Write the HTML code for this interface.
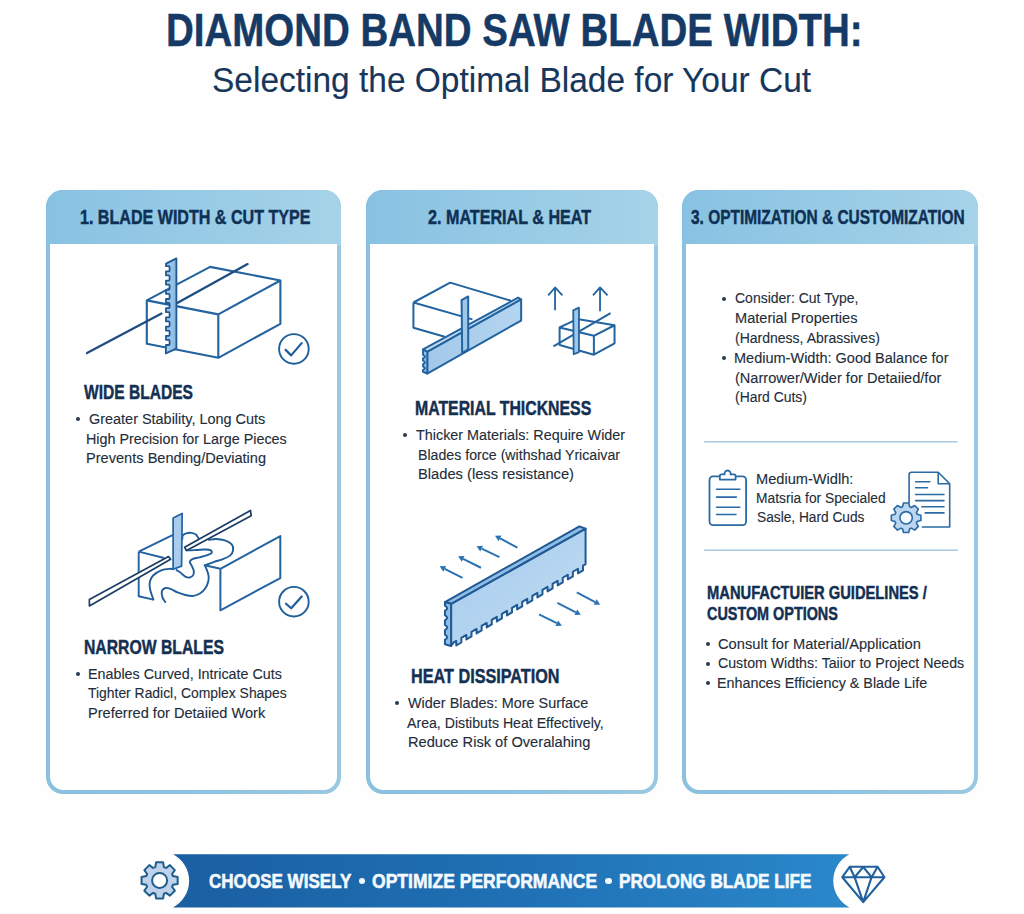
<!DOCTYPE html>
<html><head><meta charset="utf-8"><style>
*{margin:0;padding:0;box-sizing:border-box}
html,body{width:1024px;height:914px;overflow:hidden;background:#fefefe;font-family:"Liberation Sans",sans-serif}
.t{position:absolute;white-space:pre;line-height:1;transform-origin:0 0}
.r{-webkit-text-stroke:0.12px currentColor}
.bd{-webkit-text-stroke:0.45px currentColor}
.bn{-webkit-text-stroke:0.6px currentColor}
.card{position:absolute;top:189.5px;height:604px;border-radius:17px;background:linear-gradient(90deg,#8bc0df,#8ec2df 50%,#99c9e1)}
.hd{position:absolute;left:0;top:0;right:0;height:56px;border-radius:17px 17px 0 0;background:linear-gradient(90deg,#88c2e2,#a6d3e8)}
.bd2{position:absolute;left:3.6px;right:3.6px;top:54.5px;bottom:3.6px;border-radius:0 0 13.5px 13.5px;background:#fff}
.b{position:absolute;width:4px;height:4px;border-radius:50%;background:#2a3a50}
svg{position:absolute;left:0;top:0}
</style></head><body>
<div class="card" style="left:46px;width:295px"><div class="hd"></div><div class="bd2"></div></div>
<div class="card" style="left:366px;width:292px"><div class="hd"></div><div class="bd2"></div></div>
<div class="card" style="left:682px;width:296px"><div class="hd"></div><div class="bd2"></div></div>

<svg width="1024" height="914" viewBox="0 0 1024 914">
<path d="M146.8,300.4 L210.1,266.9 L280.4,280.5 L218.3,314.4 Z M146.8,300.4 L146.8,343.7 L218.3,357.8 L218.3,314.4 M218.3,357.8 L280.4,323.8 L280.4,280.5" fill="#fff" stroke="#2263a0" stroke-width="2.1" stroke-linejoin="round"/><path d="M87,353.1 L161.5,313.6 M170,307 L247.6,264.1" stroke="#1d4d82" stroke-width="2.3" stroke-linecap="round"/><defs><linearGradient id="bl1" x1="0" y1="0" x2="1" y2="0"><stop offset="0" stop-color="#a7d0f2"/><stop offset="1" stop-color="#86b6e0"/></linearGradient></defs><path d="M176.4,258.4 L176.4,348.7 L165.8,353.3 L166,345.0 L168.6,345.0 Q169.6,345.0 169.6,344.0 L169.6,340.8 Q169.6,339.8 168.6,339.8 L166,339.8 L166,335.8 L168.6,335.8 Q169.6,335.8 169.6,334.8 L169.6,331.6 Q169.6,330.6 168.6,330.6 L166,330.6 L166,326.6 L168.6,326.6 Q169.6,326.6 169.6,325.6 L169.6,322.4 Q169.6,321.4 168.6,321.4 L166,321.4 L166,317.4 L168.6,317.4 Q169.6,317.4 169.6,316.4 L169.6,313.2 Q169.6,312.2 168.6,312.2 L166,312.2 L166,308.2 L168.6,308.2 Q169.6,308.2 169.6,307.2 L169.6,304.0 Q169.6,303.0 168.6,303.0 L166,303.0 L166,299.0 L168.6,299.0 Q169.6,299.0 169.6,298.0 L169.6,294.8 Q169.6,293.8 168.6,293.8 L166,293.8 L166,289.8 L168.6,289.8 Q169.6,289.8 169.6,288.8 L169.6,285.6 Q169.6,284.6 168.6,284.6 L166,284.6 L166,280.6 L168.6,280.6 Q169.6,280.6 169.6,279.6 L169.6,276.4 Q169.6,275.4 168.6,275.4 L166,275.4 L166,271.4 L168.6,271.4 Q169.6,271.4 169.6,270.4 L169.6,267.2 Q169.6,266.2 168.6,266.2 L166,266.2 L166.1,263.6 Z" fill="url(#bl1)" stroke="#1f5893" stroke-width="1.8" stroke-linejoin="round"/><circle cx="293.9" cy="348.9" r="14.8" fill="none" stroke="#1f5f99" stroke-width="1.9"/><path d="M285.6,349.9 L291.1,355.4 L301.7,343.1" fill="none" stroke="#1f5f99" stroke-width="2.2" stroke-linecap="round" stroke-linejoin="round"/><path d="M138.7,551.7 L138.7,596.2 L153.4,599.6 M138.7,551.7 L173,534.9 M138.7,551.7 L164.1,558" fill="none" stroke="#2263a0" stroke-width="1.9" stroke-linejoin="round"/><path d="M153.40,599.60 C152.83,597.80 150.57,591.90 150.00,588.80 C149.43,585.70 149.43,583.27 150.00,581.00 C150.57,578.73 151.53,576.98 153.40,575.20 C155.27,573.42 158.43,571.37 161.20,570.30 C163.97,569.23 168.02,568.98 170.00,568.80 C171.98,568.62 172.58,569.13 173.10,569.20 M176.60,570.10 C177.18,570.47 178.63,571.22 180.10,572.30 C181.57,573.38 183.78,575.73 185.40,576.60 C187.02,577.47 188.48,577.78 189.80,577.50 C191.12,577.22 192.65,576.07 193.30,574.90 C193.95,573.73 194.00,572.10 193.70,570.50 C193.40,568.90 192.15,566.75 191.50,565.30 C190.85,563.85 189.65,562.83 189.80,561.80 C189.95,560.77 190.80,559.83 192.40,559.10 C194.00,558.37 196.92,558.05 199.40,557.40 C201.88,556.75 205.27,555.93 207.30,555.20 C209.33,554.47 211.02,553.80 211.60,553.00 C212.18,552.20 211.82,550.98 210.80,550.40 C209.78,549.82 207.83,549.57 205.50,549.50 C203.17,549.43 199.57,549.85 196.80,550.00 C194.03,550.15 190.65,550.40 188.90,550.40 C187.15,550.40 186.73,550.07 186.30,550.00 M182.30,539.00 C182.38,538.42 182.13,536.45 182.80,535.50 C183.47,534.55 184.85,533.73 186.30,533.30 C187.75,532.87 189.90,532.68 191.50,532.90 C193.10,533.12 194.73,533.73 195.90,534.60 C197.07,535.47 198.07,537.52 198.50,538.10 M209.00,539.90 C210.17,539.75 213.37,538.93 216.00,539.00 C218.63,539.07 222.17,539.42 224.80,540.30 C227.43,541.18 230.42,542.62 231.80,544.30 C233.18,545.98 233.40,548.52 233.10,550.40 C232.80,552.28 231.68,554.15 230.00,555.60 C228.32,557.05 225.62,558.07 223.00,559.10 C220.38,560.13 216.92,560.92 214.30,561.80 C211.68,562.68 208.92,563.82 207.30,564.40 C205.68,564.98 205.05,565.15 204.60,565.30 M204.60,565.30 C204.90,565.88 205.73,567.05 206.40,568.80 C207.07,570.55 208.32,573.62 208.60,575.80 C208.88,577.98 208.62,579.87 208.10,581.90 C207.58,583.93 206.80,586.10 205.50,588.00 C204.20,589.90 202.33,591.98 200.30,593.30 C198.27,594.62 195.78,595.62 193.30,595.90 C190.82,596.18 188.03,595.58 185.40,595.00 C182.77,594.42 179.98,593.42 177.50,592.40 C175.02,591.38 172.53,589.63 170.50,588.90 C168.47,588.17 166.75,587.57 165.30,588.00 C163.85,588.43 162.25,589.90 161.80,591.50 C161.35,593.10 162.02,595.85 162.60,597.60 C163.18,599.35 164.85,601.27 165.30,602.00" fill="none" stroke="#1f5d99" stroke-width="1.9" stroke-linecap="round" stroke-linejoin="round"/><path d="M89.4,599.6 L168.5,556.6 L170.6,559.3 L89.4,605.9 Z M184.6,547.3 L250.5,510.5 L251.2,515.8 L186.6,550.6 Z" fill="#fff" stroke="#1b3c66" stroke-width="1.7" stroke-linejoin="round"/><path d="M173.1,517.9 L182.2,513.4 L181.6,566.1 L173.1,569.2 Z" fill="#a9cbec" stroke="#2263a0" stroke-width="1.7" stroke-linejoin="round"/><path d="M204.6,565.3 L220.4,568.8 L280.3,536.1 L280.3,578.1 L220.4,610.3 L220.4,568.8" fill="#fff" stroke="#2263a0" stroke-width="2" stroke-linejoin="round"/><circle cx="293.9" cy="601.7" r="14.8" fill="none" stroke="#1f5f99" stroke-width="1.9"/><path d="M286,603.7 L291.2,608.3 L301.7,596.5" fill="none" stroke="#1f5f99" stroke-width="2.2" stroke-linecap="round" stroke-linejoin="round"/><g transform="translate(405,270) scale(0.120366)"><path d="M70,270 L375,105 L880,255 M70,270 L560,410 M70,270 L70,480 L330,555" fill="none" stroke="#2263a0" stroke-width="2" vector-effect="non-scaling-stroke" stroke-linejoin="round"/><path d="M150,660 L940,230 L965,245 L185,680 Z" fill="#c4dcf1" stroke="#2263a0" stroke-width="2" vector-effect="non-scaling-stroke" stroke-linejoin="round"/><defs><linearGradient id="bar3" x1="0" y1="0" x2="1" y2="0"><stop offset="0" stop-color="#a2c8ea"/><stop offset="1" stop-color="#b4d5f0"/></linearGradient></defs><path d="M185,680 L965,245 L965,420 L185,860 Z" fill="url(#bar3)" stroke="#2263a0" stroke-width="2" vector-effect="non-scaling-stroke" stroke-linejoin="round"/><path d="M150,660 L185,680 L185,860 L150,845 L150,830 Q180,818 150,800 L150,782 Q180,768 150,752 L150,735 Q180,720 150,705 Z" fill="#9fc7ea" stroke="#2263a0" stroke-width="2" vector-effect="non-scaling-stroke" stroke-linejoin="round"/><path d="M470,250 L525,220 L525,660 L475,690 Z" fill="#9fc7ea" stroke="#2263a0" stroke-width="2" vector-effect="non-scaling-stroke" stroke-linejoin="round"/></g><g transform="translate(535,280) scale(0.087889)"><path d="M228,345 L228,85 M150,175 L228,85 L312,175 M740,355 L740,85 M660,175 L740,85 L825,175" fill="none" stroke="#2263a0" stroke-width="1.8" vector-effect="non-scaling-stroke" stroke-linejoin="round"/><path d="M280,540 L480,445 L905,515 L670,635 Z M280,540 L280,740 L670,850 L670,635 M670,850 L905,720 L905,515" fill="#fff" stroke="#2263a0" stroke-width="2" vector-effect="non-scaling-stroke" stroke-linejoin="round"/><path d="M210,755 L860,378" stroke="#2263a0" stroke-width="2" vector-effect="non-scaling-stroke"/><path d="M435,345 L500,315 L500,820 L440,845 Z" fill="#9fc7ea" stroke="#2263a0" stroke-width="1.8" vector-effect="non-scaling-stroke" stroke-linejoin="round"/></g><g transform="translate(430,515) scale(0.175778)"><path d="M185,358 L83.5,306.5" stroke="#2b72b3" stroke-width="2" vector-effect="non-scaling-stroke"/><path d="M55,292 L91.7,290.4 L75.4,322.5 Z" fill="#2b72b3"/><path d="M290,300 L188.6,249.3" stroke="#2b72b3" stroke-width="2" vector-effect="non-scaling-stroke"/><path d="M160,235 L196.7,233.2 L180.6,265.4 Z" fill="#2b72b3"/><path d="M395,240 L293.9,191.8" stroke="#2b72b3" stroke-width="2" vector-effect="non-scaling-stroke"/><path d="M265,178 L301.6,175.5 L286.1,208.0 Z" fill="#2b72b3"/><path d="M497,185 L398.3,132.9" stroke="#2b72b3" stroke-width="2" vector-effect="non-scaling-stroke"/><path d="M370,118 L406.7,117.0 L389.9,148.9 Z" fill="#2b72b3"/><path d="M620,565 L721.4,615.7" stroke="#2b72b3" stroke-width="2" vector-effect="non-scaling-stroke"/><path d="M750,630 L713.3,631.8 L729.4,599.6 Z" fill="#2b72b3"/><path d="M725,500 L829.5,553.4" stroke="#2b72b3" stroke-width="2" vector-effect="non-scaling-stroke"/><path d="M858,568 L821.3,569.5 L837.7,537.4 Z" fill="#2b72b3"/><path d="M835,440 L939.7,495.1" stroke="#2b72b3" stroke-width="2" vector-effect="non-scaling-stroke"/><path d="M968,510 L931.3,511.0 L948.1,479.2 Z" fill="#2b72b3"/><defs><linearGradient id="hb" x1="0" y1="0" x2="1" y2="1"><stop offset="0" stop-color="#a6cbed"/><stop offset="1" stop-color="#c0dcf3"/></linearGradient></defs><path d="M120,505 L885,78 L885,280 L870.6,288.6 L870.6,314.6 L841.7,331.7 L841.7,305.7 L812.9,322.8 L812.9,348.8 L784.0,365.9 L784.0,339.9 L755.2,357.0 L755.2,383.0 L726.3,400.1 L726.3,374.1 L697.5,391.3 L697.5,417.3 L668.7,434.4 L668.7,408.4 L639.8,425.5 L639.8,451.5 L611.0,468.6 L611.0,442.6 L582.1,459.7 L582.1,485.7 L553.3,502.8 L553.3,476.8 L524.4,493.9 L524.4,519.9 L495.6,537.1 L495.6,511.1 L466.7,528.2 L466.7,554.2 L437.9,571.3 L437.9,545.3 L409.0,562.4 L409.0,588.4 L380.2,605.5 L380.2,579.5 L351.3,596.6 L351.3,622.6 L322.5,639.8 L322.5,613.8 L293.7,630.9 L293.7,656.9 L264.8,674.0 L264.8,648.0 L236.0,665.1 L236.0,691.1 L207.1,708.2 L207.1,682.2 L178.3,699.3 L178.3,725.3 L149.4,742.4 L149.4,716.4 L135,725 L120,745 Z" fill="url(#hb)" stroke="#1f5a94" stroke-width="2" vector-effect="non-scaling-stroke" stroke-linejoin="round"/><path d="M85,495 L850,65 L885,78 L120,505 Z" fill="#8fbde6" stroke="#1f5a94" stroke-width="2" vector-effect="non-scaling-stroke" stroke-linejoin="round"/><path d="M85,495 L120,505 L120,745 L85,735 L85,710 Q110,695 85,680 L85,655 Q110,640 85,625 L85,600 Q110,585 85,570 L85,545 Q110,530 85,515 Z" fill="#8fbde6" stroke="#1f5a94" stroke-width="2" vector-effect="non-scaling-stroke" stroke-linejoin="round"/></g><rect x="709.5" y="476.3" width="36.6" height="48.8" rx="3.5" fill="none" stroke="#2a6aa5" stroke-width="1.8"/><path d="M719.8,479.6 L719.8,475.9 Q719.8,474.4 721.3,474.4 L724.6,474.4 A3.1,3.1 0 1 1 730.6,474.4 L734,474.4 Q735.6,474.4 735.6,475.9 L735.6,479.6 Z" fill="#fff" stroke="#2a6aa5" stroke-width="1.8" stroke-linejoin="round"/><path d="M716.5,489.2 H739.8 M716.5,497.1 H736.4 M716.5,507.2 H739.8 M716.5,514.5 H736" stroke="#2a6aa5" stroke-width="1.6" stroke-linecap="round"/><path d="M921.8,527 L949.7,527 L949.7,483.8 L938.2,472.3 L911.5,472.3 Q909.1,472.3 909.1,474.7 L909.1,503 M938.2,472.3 L938.2,483.8 L949.7,483.8" fill="#fff" stroke="#2a6aa5" stroke-width="1.6" stroke-linejoin="round"/><path d="M915.6,481.7 H929.8 M915.6,487.8 H927.5 M915.6,494.5 H944 M915.6,500.6 H944 M921.8,506.7 H944 M925.2,512.9 H944" stroke="#2a6aa5" stroke-width="1.6" stroke-linecap="round"/><path d="M902.50,506.77L903.50,503.03L908.70,503.03L909.70,506.77A11.6,11.6 0 0 1 911.35,507.46L914.71,505.52L918.38,509.19L916.44,512.55A11.6,11.6 0 0 1 917.13,514.20L920.87,515.20L920.87,520.40L917.13,521.40A11.6,11.6 0 0 1 916.44,523.05L918.38,526.41L914.71,530.08L911.35,528.14A11.6,11.6 0 0 1 909.70,528.83L908.70,532.57L903.50,532.57L902.50,528.83A11.6,11.6 0 0 1 900.85,528.14L897.49,530.08L893.82,526.41L895.76,523.05A11.6,11.6 0 0 1 895.07,521.40L891.33,520.40L891.33,515.20L895.07,514.20A11.6,11.6 0 0 1 895.76,512.55L893.82,509.19L897.49,505.52L900.85,507.46A11.6,11.6 0 0 1 902.50,506.77Z" fill="#bcd6ef" stroke="#2a6aa5" stroke-width="1.6" stroke-linejoin="round"/><circle cx="906.1" cy="517.8" r="6.2" fill="#f6fbff" stroke="#2a6aa5" stroke-width="1.6"/><path d="M704.2,441.8 H957.4 M704.2,550.3 H958" stroke="#a6c9e3" stroke-width="1.6"/><defs><linearGradient id="bn" x1="0" y1="0" x2="1" y2="0"><stop offset="0" stop-color="#1a5fa2"/><stop offset="0.5" stop-color="#1f70b4"/><stop offset="1" stop-color="#2a88ca"/></linearGradient></defs><path d="M173,854.2 L849.4,854.2 A30,30 0 0 0 849.4,907.4 L173,907.4 A30,30 0 0 0 173,854.2 Z" fill="url(#bn)"/><path d="M155.30,867.08L156.10,862.34L163.10,862.34L163.90,867.08A14.0,14.0 0 0 1 165.98,867.94L169.90,865.15L174.85,870.10L172.06,874.02A14.0,14.0 0 0 1 172.92,876.10L177.66,876.90L177.66,883.90L172.92,884.70A14.0,14.0 0 0 1 172.06,886.78L174.85,890.70L169.90,895.65L165.98,892.86A14.0,14.0 0 0 1 163.90,893.72L163.10,898.46L156.10,898.46L155.30,893.72A14.0,14.0 0 0 1 153.22,892.86L149.30,895.65L144.35,890.70L147.14,886.78A14.0,14.0 0 0 1 146.28,884.70L141.54,883.90L141.54,876.90L146.28,876.10A14.0,14.0 0 0 1 147.14,874.02L144.35,870.10L149.30,865.15L153.22,867.94A14.0,14.0 0 0 1 155.30,867.08Z" fill="#bed3ea" stroke="#1f5d8f" stroke-width="2" stroke-linejoin="round"/><circle cx="159.6" cy="880.4" r="7.5" fill="#fff" stroke="#1f5d8f" stroke-width="2"/><path d="M849.7,866.8 L877.6,866.8 L884.4,877.2 L863.2,902.1 L842.3,877.2 Z M842.3,877.2 H884.4 M849.7,866.8 L854.6,877.2 L863.2,902.1 M877.6,866.8 L871.6,877.2 L863.2,902.1 M854.6,877.2 L863.2,867 L871.6,877.2" fill="none" stroke="#22609c" stroke-width="2.1" stroke-linejoin="round"/>
</svg>
<div class="t bd " style="left:165.60px;top:7.9px;font-size:45.6px;font-weight:700;color:#163a66;transform:scaleX(0.8436)">DIAMOND BAND SAW BLADE WIDTH:</div>
<div class="t r " style="left:211.95px;top:62.0px;font-size:35.2px;font-weight:400;color:#17365b;transform:scaleX(0.9512)">Selecting the Optimal Blade for Your Cut</div>
<div class="t bd " style="left:79.89px;top:207.7px;font-size:19.9px;font-weight:700;color:#0f3055;transform:scaleX(0.8082)">1. BLADE WIDTH &amp; CUT TYPE</div>
<div class="t bd " style="left:428.10px;top:207.8px;font-size:19.9px;font-weight:700;color:#0f3055;transform:scaleX(0.8113)">2. MATERIAL &amp; HEAT</div>
<div class="t bd " style="left:691.46px;top:207.7px;font-size:19.9px;font-weight:700;color:#0f3055;transform:scaleX(0.7763)">3. OPTIMIZATION &amp; CUSTOMIZATION</div>
<div class="t bd " style="left:84.30px;top:381.7px;font-size:20.3px;font-weight:700;color:#132f52;transform:scaleX(0.7678)">WIDE BLADES</div>
<div class="t bd " style="left:83.81px;top:636.7px;font-size:20.3px;font-weight:700;color:#132f52;transform:scaleX(0.7765)">NARROW BLALES</div>
<div class="t bd " style="left:414.61px;top:397.9px;font-size:20px;font-weight:700;color:#132f52;transform:scaleX(0.7917)">MATERIAL THICKNESS</div>
<div class="t bd " style="left:410.89px;top:665.5px;font-size:20px;font-weight:700;color:#132f52;transform:scaleX(0.8104)">HEAT DISSIPATION</div>
<div class="t bd " style="left:706.98px;top:585.3px;font-size:17.9px;font-weight:700;color:#132f52;transform:scaleX(0.8223)">MANUFACTUIER GUIDELINES /</div>
<div class="t bd " style="left:707.45px;top:605.5px;font-size:17.9px;font-weight:700;color:#132f52;transform:scaleX(0.8044)">CUSTOM OPTIONS</div>
<div class="t r " style="left:89.22px;top:410.9px;font-size:15.5px;font-weight:400;color:#232d3a;transform:scaleX(0.9312)">Greater Stability, Long Cuts</div>
<div class="t r " style="left:86.48px;top:430.7px;font-size:15.5px;font-weight:400;color:#232d3a;transform:scaleX(0.9247)">High Precision for Large Pieces</div>
<div class="t r " style="left:86.46px;top:450.4px;font-size:15.5px;font-weight:400;color:#232d3a;transform:scaleX(0.9413)">Prevents Bending/Deviating</div>
<div class="t r " style="left:87.58px;top:665.5px;font-size:15.5px;font-weight:400;color:#232d3a;transform:scaleX(0.9222)">Enables Curved, Intricate Cuts</div>
<div class="t r " style="left:88.48px;top:685.0px;font-size:15.5px;font-weight:400;color:#232d3a;transform:scaleX(0.8965)">Tighter Radicl, Complex Shapes</div>
<div class="t r " style="left:87.56px;top:704.9px;font-size:15.5px;font-weight:400;color:#232d3a;transform:scaleX(0.9408)">Preferred for Detaiied Work</div>
<div class="t r " style="left:416.38px;top:427.4px;font-size:15.5px;font-weight:400;color:#232d3a;transform:scaleX(0.9265)">Thicker Materials: Require Wider</div>
<div class="t r " style="left:417.79px;top:446.6px;font-size:15.5px;font-weight:400;color:#232d3a;transform:scaleX(0.9136)">Blades force (withshad Yricaivar</div>
<div class="t r " style="left:417.75px;top:466.0px;font-size:15.5px;font-weight:400;color:#232d3a;transform:scaleX(0.9482)">Blades (less resistance)</div>
<div class="t r " style="left:408.00px;top:695.4px;font-size:15.5px;font-weight:400;color:#232d3a;transform:scaleX(0.9301)">Wider Blades: More Surface</div>
<div class="t r " style="left:407.30px;top:714.7px;font-size:15.5px;font-weight:400;color:#232d3a;transform:scaleX(0.9124)">Area, Distibuts Heat Effectively,</div>
<div class="t r " style="left:408.46px;top:733.9px;font-size:15.5px;font-weight:400;color:#232d3a;transform:scaleX(0.9450)">Reduce Risk of Overalahing</div>
<div class="t r " style="left:734.74px;top:290.4px;font-size:15.5px;font-weight:400;color:#232d3a;transform:scaleX(0.9023)">Consider: Cut Type,</div>
<div class="t r " style="left:734.76px;top:310.2px;font-size:15.5px;font-weight:400;color:#232d3a;transform:scaleX(0.9417)">Material Properties</div>
<div class="t r " style="left:734.74px;top:329.7px;font-size:15.5px;font-weight:400;color:#232d3a;transform:scaleX(0.9038)">(Hardness, Abrassives)</div>
<div class="t r " style="left:734.27px;top:350.0px;font-size:15.5px;font-weight:400;color:#232d3a;transform:scaleX(0.9361)">Medium-Width: Good Balance for</div>
<div class="t r " style="left:734.72px;top:369.8px;font-size:15.5px;font-weight:400;color:#232d3a;transform:scaleX(0.9395)">(Narrower/Wider for Detaiied/for</div>
<div class="t r " style="left:734.75px;top:389.4px;font-size:15.5px;font-weight:400;color:#232d3a;transform:scaleX(0.8986)">(Hard Cuts)</div>
<div class="t r " style="left:755.86px;top:471.1px;font-size:15.5px;font-weight:400;color:#232d3a;transform:scaleX(0.9420)">Medium-Widlh:</div>
<div class="t r " style="left:755.92px;top:490.3px;font-size:15.5px;font-weight:400;color:#232d3a;transform:scaleX(0.8898)">Matsria for Specialed</div>
<div class="t r " style="left:756.57px;top:509.4px;font-size:15.5px;font-weight:400;color:#232d3a;transform:scaleX(0.8846)">Sasle, Hard Cuds</div>
<div class="t r " style="left:717.91px;top:635.8px;font-size:15.5px;font-weight:400;color:#232d3a;transform:scaleX(0.9459)">Consult for Material/Application</div>
<div class="t r " style="left:717.94px;top:655.0px;font-size:15.5px;font-weight:400;color:#232d3a;transform:scaleX(0.9139)">Custom Widths: Taiior to Project Needs</div>
<div class="t r " style="left:717.48px;top:674.7px;font-size:15.5px;font-weight:400;color:#232d3a;transform:scaleX(0.9248)">Enhances Efficiency &amp; Blade Life</div>
<div class="t bd bn" style="left:209.37px;top:870.0px;font-size:21px;font-weight:700;color:#f4f9fd;transform:scaleX(0.8118)">CHOOSE WISELY</div>
<div class="t bd bn" style="left:371.65px;top:870.0px;font-size:21px;font-weight:700;color:#f4f9fd;transform:scaleX(0.8353)">OPTIMIZE PERFORMANCE</div>
<div class="t bd bn" style="left:618.63px;top:870.0px;font-size:21px;font-weight:700;color:#f4f9fd;transform:scaleX(0.8161)">PROLONG BLADE LIFE</div>
<div class="b" style="left:76.2px;top:416.8px"></div>
<div class="b" style="left:75.5px;top:671.8px"></div>
<div class="b" style="left:402.8px;top:433.0px"></div>
<div class="b" style="left:394.7px;top:701.0px"></div>
<div class="b" style="left:722.0px;top:296.5px"></div>
<div class="b" style="left:722.0px;top:356.0px"></div>
<div class="b" style="left:705.7px;top:642.0px"></div>
<div class="b" style="left:705.7px;top:661.5px"></div>
<div class="b" style="left:705.7px;top:681.0px"></div><div class="b" style="left:358.5px;top:877.7px;width:6.4px;height:6.4px;background:#f4f9fd"></div><div class="b" style="left:605.4px;top:877.7px;width:6.4px;height:6.4px;background:#f4f9fd"></div>
</body></html>
